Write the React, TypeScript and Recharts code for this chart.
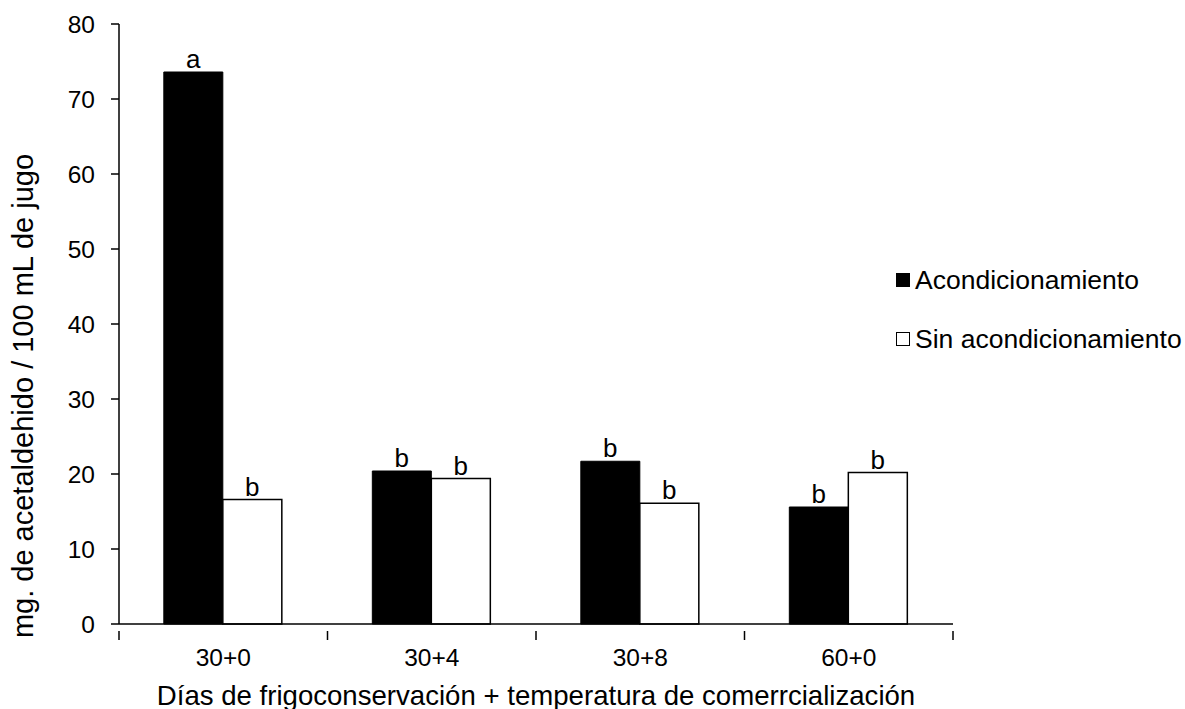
import React from "react";
import { BarChart, Bar, XAxis, YAxis, LabelList } from "recharts";

// page reset, the chart fills the window exactly
document.body.style.margin = "0";

const categories = ["30+0", "30+4", "30+8", "60+0"];
const acondicionamiento = [73.6, 20.4, 21.7, 15.6];
const sinAcondicionamiento = [16.6, 19.4, 16.1, 20.2];
const lettersAcond = ["a", "b", "b", "b"];
const lettersSin = ["b", "b", "b", "b"];
const yTicks = [0, 10, 20, 30, 40, 50, 60, 70, 80];

const SERIES_A = "Acondicionamiento";
const SERIES_B = "Sin acondicionamiento";
const X_TITLE = "Días de frigoconservación + temperatura de comerrcialización";
const Y_TITLE = "mg. de acetaldehido / 100 mL de jugo";

const W = 1185;
const H = 709;
const FONT = "Liberation Sans, Arial, sans-serif";
const FS = 24.5;
const MARGIN = { top: 24, right: 232, bottom: 0, left: 0 };
const Y_AXIS_W = 119;
const X_AXIS_H = 85;
const PLOT_W = W - MARGIN.left - MARGIN.right - Y_AXIS_W;

const data = categories.map((cat, i) => ({
  cat,
  [SERIES_A]: acondicionamiento[i],
  [SERIES_B]: sinAcondicionamiento[i],
  la: lettersAcond[i],
  lb: lettersSin[i],
}));

// excel-style: tick marks sit on category boundaries, label in the middle
function XTick(props: any) {
  const { x, y, payload, index } = props;
  const half =
    typeof payload?.offset === "number" && payload.offset > 0
      ? payload.offset
      : PLOT_W / categories.length / 2;
  return (
    <g>
      <line x1={x - half} y1={y - 1} x2={x - half} y2={y + 8} stroke="#000" strokeWidth={1.5} />
      {index === categories.length - 1 && (
        <line x1={x + half} y1={y - 1} x2={x + half} y2={y + 8} stroke="#000" strokeWidth={1.5} />
      )}
      <text
        x={x}
        y={y + 25}
        textAnchor="middle"
        dominantBaseline="central"
        fontFamily={FONT}
        fontSize={FS}
        fill="#000"
      >
        {payload.value}
      </text>
    </g>
  );
}

// legend kept outside the svg so it doesn't eat plot width
function ChartLegend() {
  const items = [
    { name: SERIES_A, fill: "#000" },
    { name: SERIES_B, fill: "#fff" },
  ];
  return (
    <div
      style={{
        position: "absolute",
        left: 896,
        top: 265,
        fontFamily: FONT,
        fontSize: 26.5,
        color: "#000",
      }}
    >
      {items.map((it, i) => (
        <div
          key={it.name}
          style={{
            display: "flex",
            alignItems: "center",
            height: 30,
            marginBottom: i === 0 ? 29 : 0,
            whiteSpace: "nowrap",
          }}
        >
          <span
            style={{
              display: "inline-block",
              width: 14,
              height: 14,
              background: it.fill,
              border: "1px solid #000",
              boxSizing: "border-box",
              marginRight: 5,
            }}
          />
          {it.name}
        </div>
      ))}
    </div>
  );
}

const labelStyle = { fontFamily: FONT, fontSize: FS, fill: "#000" };
const letterStyle = { fontFamily: FONT, fontSize: 26, fill: "#000" };

export default function App() {
  return (
    <div style={{ position: "relative", width: W, height: H, background: "#fff" }}>
      <BarChart
        width={W}
        height={H}
        data={data}
        margin={MARGIN}
        barCategoryGap="21.5%"
        barGap={0}
      >
        <XAxis
          dataKey="cat"
          height={X_AXIS_H}
          axisLine={{ stroke: "#000", strokeWidth: 1.5 }}
          tickLine={false}
          tick={<XTick />}
          interval={0}
          label={{
            content: (p: any) => {
              const vb = p.viewBox || {};
              return (
                <text
                  x={vb.x + vb.width / 2}
                  y={vb.y + 71}
                  textAnchor="middle"
                  dominantBaseline="central"
                  fontFamily={FONT}
                  fontSize={27.6}
                  fill="#000"
                >
                  {X_TITLE}
                </text>
              );
            },
          }}
        />
        <YAxis
          width={Y_AXIS_W}
          domain={[0, 80]}
          ticks={yTicks}
          interval={0}
          axisLine={{ stroke: "#000", strokeWidth: 1.5 }}
          tickLine={{ stroke: "#000", strokeWidth: 1.5 }}
          tickSize={8}
          tickMargin={16}
          tick={{ ...labelStyle }}
          label={{
            content: (p: any) => {
              const vb = p.viewBox || {};
              const cx = vb.x + 23;
              const cy = vb.y + vb.height / 2 + 72;
              return (
                <text
                  x={cx}
                  y={cy}
                  transform={`rotate(-90, ${cx}, ${cy})`}
                  textAnchor="middle"
                  dominantBaseline="central"
                  fontFamily={FONT}
                  fontSize={29}
                  fill="#000"
                >
                  {Y_TITLE}
                </text>
              );
            },
          }}
        />
        <Bar
          dataKey={SERIES_A}
          fill="#000"
          stroke="#000"
          strokeWidth={1}
          isAnimationActive={false}
        >
          <LabelList dataKey="la" position="top" offset={4} style={letterStyle} />
        </Bar>
        <Bar
          dataKey={SERIES_B}
          fill="#fff"
          stroke="#000"
          strokeWidth={1.5}
          isAnimationActive={false}
        >
          <LabelList dataKey="lb" position="top" offset={4} style={letterStyle} />
        </Bar>
      </BarChart>
      <ChartLegend />
    </div>
  );
}
